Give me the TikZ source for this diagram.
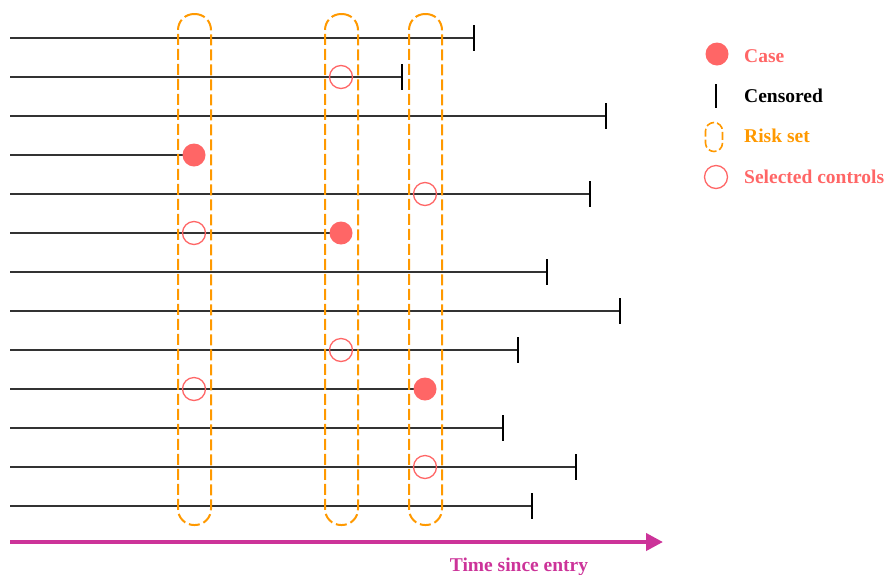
\documentclass[tikz,border=0pt]{standalone}
\usepackage{fontspec}
\setmainfont{Liberation Serif}
\usetikzlibrary{arrows.meta}
\definecolor{casered}{RGB}{255,102,102}
\definecolor{riskorange}{RGB}{255,153,0}
\definecolor{timemag}{RGB}{204,51,153}
\begin{document}
\begin{tikzpicture}[x=1pt,y=-1pt,
  life/.style={draw=black!80, line width=1.3pt},
  cens/.style={draw=black, line width=1.4pt},
  riskset/.style={draw=riskorange, line width=2pt, dash pattern=on 11pt off 4pt, rounded corners=16pt, inner sep=0pt},
  casedot/.style={circle, fill=casered, minimum size=23pt, inner sep=0pt},
  ctrl/.style={circle, draw=casered, line width=1.3pt, minimum size=23pt, inner sep=0pt},
  lbl/.style={font=\fontsize{19.5}{23}\selectfont\bfseries, anchor=base west, inner sep=0pt}]
\useasboundingbox (0,0) rectangle (890,574);
% follow-up lines
\foreach \i/\y/\x in {1/38/474,2/77/402,3/116/606,4/155/194,5/194/590,6/233/340,7/272/547,8/311/620,9/350/518,10/389/425,11/428/503,12/467/576,13/506/532}{
  \coordinate (s\i) at (10,\y);
  \coordinate (e\i) at (\x,\y);
  \draw[life] (s\i) -- (e\i);
}
% censoring ticks
\foreach \i in {1,2,3,5,7,8,9,11,12,13}{
  \draw[cens] ([yshift=13pt]e\i) -- ([yshift=-13pt]e\i);
}
% risk sets
\node[riskset, minimum width=33pt, minimum height=511pt] (r1) at (194.5,269.5) {};
\node[riskset, minimum width=33pt, minimum height=511pt] (r2) at (341.5,269.5) {};
\node[riskset, minimum width=33pt, minimum height=511pt] (r3) at (425.5,269.5) {};
% cases
\node[casedot] (c1) at (194,155) {};
\node[casedot] (c2) at (341,233) {};
\node[casedot] (c3) at (425,389) {};
% selected controls
\node[ctrl] (k1) at (341,77) {};
\node[ctrl] (k2) at (425,194) {};
\node[ctrl] (k3) at (194,233) {};
\node[ctrl] (k4) at (341,350) {};
\node[ctrl] (k5) at (194,389) {};
\node[ctrl] (k6) at (425,467) {};
% time axis
\coordinate (t0) at (10,542);
\coordinate (t1) at (663,542);
\draw[timemag, line width=4pt, -{Triangle[length=17pt,width=17pt]}] (t0) -- (t1);
\node[font=\fontsize{19.5}{23}\selectfont\bfseries, text=timemag, anchor=base, inner sep=0pt] (tl) at (519,571) {Time since entry};
% legend
\node[casedot] (lc) at (717,54) {};
\node[lbl, text=casered] (lct) at (744,62) {Case};
\coordinate (lt0) at (716,84);
\coordinate (lt1) at (716,108);
\draw[cens] (lt0) -- (lt1);
\node[lbl, text=black] (ltt) at (744,102) {Censored};
\node[riskset, line width=1.6pt, dash pattern=on 8pt off 3pt, rounded corners=8.5pt, minimum width=17pt, minimum height=29pt] (lr) at (714,137) {};
\node[lbl, text=riskorange] (lrt) at (744,142) {Risk set};
\node[ctrl] (lk) at (716,177) {};
\node[lbl, text=casered] (lkt) at (744,183) {Selected controls};
\end{tikzpicture}
\end{document}
